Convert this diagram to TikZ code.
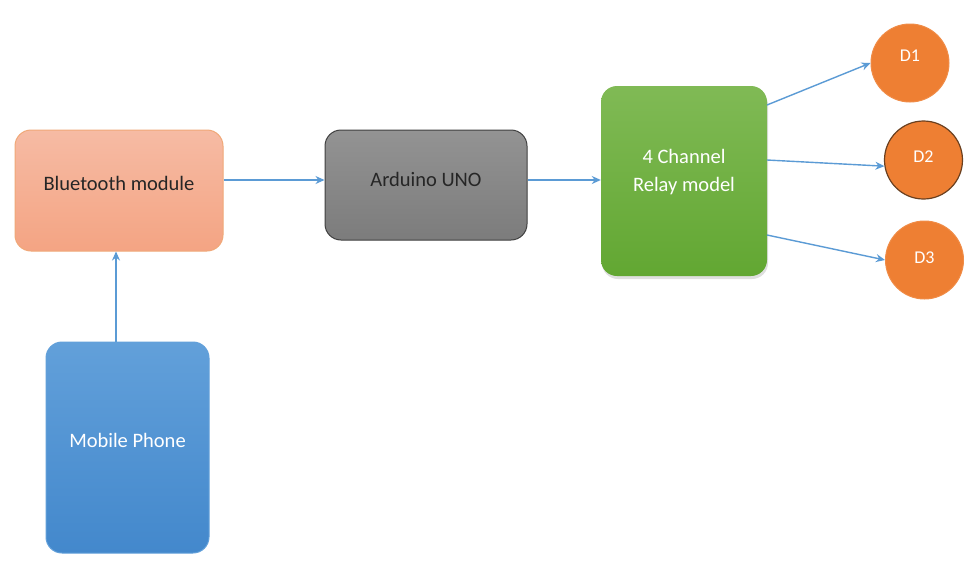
\documentclass[tikz,border=0pt]{standalone}
\usepackage{fontspec}
\setmainfont{Carlito}
\usetikzlibrary{arrows.meta,shadows}
\definecolor{arr}{HTML}{5B9BD5}
\definecolor{btTop}{HTML}{F6BBA4}
\definecolor{btBot}{HTML}{F4A483}
\definecolor{btEdge}{HTML}{F0A878}
\definecolor{arTop}{HTML}{939393}
\definecolor{arBot}{HTML}{7C7C7C}
\definecolor{arEdge}{HTML}{404040}
\definecolor{rlTop}{HTML}{80BA55}
\definecolor{rlBot}{HTML}{62A732}
\definecolor{mpTop}{HTML}{62A0DA}
\definecolor{mpBot}{HTML}{4388CC}
\definecolor{dev}{HTML}{EE7F33}
\definecolor{devEdge}{HTML}{6A4020}
\tikzset{
  x=1pt,y=-1pt,
  box/.style={rectangle,rounded corners=16pt,inner sep=0pt},
  txt/.style={font=\fontsize{20.5}{28}\selectfont,align=center,inner sep=0pt},
  devnode/.style={circle,fill=dev,draw=dev!90!white,line width=1pt,inner sep=0pt,minimum size=78pt},
  devtxt/.style={font=\fontsize{18}{20}\selectfont,text=white,inner sep=0pt},
  conn/.style={draw=arr,line width=1.4pt,-{Stealth[length=9pt,width=8pt]}}
}
\begin{document}
\begin{tikzpicture}
\useasboundingbox (0,0) rectangle (972,568);
\fill[white] (0,0) rectangle (972,568);
\node[box,minimum width=208pt,minimum height=121pt,top color=btTop,bottom color=btBot,draw=btEdge,line width=1pt,
  label={[txt,text=black!85,yshift=7.5pt]center:Bluetooth module}] (bt) at (119,190.5) {};
\node[box,minimum width=202pt,minimum height=110pt,top color=arTop,bottom color=arBot,draw=arEdge,line width=1pt,
  label={[txt,text=black!85,yshift=6pt]center:Arduino UNO}] (ar) at (426,185) {};
\node[box,minimum width=166pt,minimum height=190pt,top color=rlTop,bottom color=rlBot,drop shadow={shadow xshift=1pt,shadow yshift=-3pt,opacity=0.25},
  label={[txt,text=white,yshift=9pt]center:4 Channel\\Relay model}] (rl) at (684,181) {};
\node[box,minimum width=163pt,minimum height=211pt,top color=mpTop,bottom color=mpBot,draw=mpTop,line width=1pt,
  label={[txt,text=white,yshift=7.5pt]center:Mobile Phone}] (mp) at (127.5,447.5) {};
\node[devnode,label={[devtxt,yshift=7pt]center:D1}] (d1) at (910,63) {};
\node[devnode,draw=devEdge,line width=1.2pt,label={[devtxt,yshift=3pt]center:D2}] (d2) at (923.5,160) {};
\node[devnode,label={[devtxt,yshift=2pt]center:D3}] (d3) at (924.5,260) {};
\coordinate (r1) at (767,105);
\coordinate (r2) at (767,160);
\coordinate (r3) at (767,235);
\draw[conn] (bt.east |- 0,180) -- (ar.west |- 0,180);
\draw[conn] (ar.east |- 0,180) -- (rl.west |- 0,180);
\draw[conn] (mp.north -| 116,0) -- (bt.south -| 116,0);
\draw[conn] (r1) -- (d1.west);
\draw[conn] (r2) -- (d2.189);
\draw[conn] (r3) -- (d3.west);
\end{tikzpicture}
\end{document}
